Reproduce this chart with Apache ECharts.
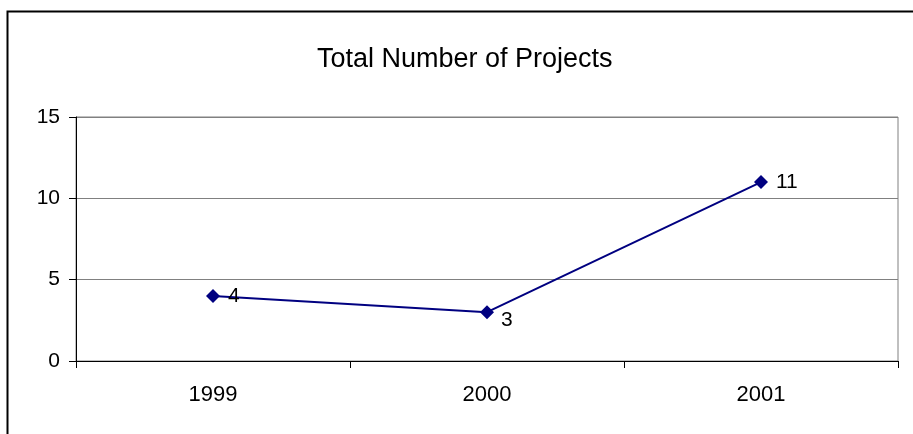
<!DOCTYPE html>
<html>
<head>
<meta charset="utf-8">
<script src="https://cdn.jsdelivr.net/npm/echarts@6/dist/echarts.min.js"></script>
<style>
  html, body { margin: 0; padding: 0; background: #ffffff; }
  #chart { width: 913px; height: 434px; }
</style>
</head>
<body>
<div id="chart"></div>
<script>
// Yearly totals
const years = ['1999', '2000', '2001'];
const projectCounts = [4, 3, 11];
const yTicks = [0, 5, 10, 15];

const chart = echarts.init(document.getElementById('chart'), null, { renderer: 'canvas' });
const font = 'Arial, "Liberation Sans", sans-serif';

// The 2000 value label sits a little below its marker, clear of the rising line
const seriesData = projectCounts.map((v, i) => (
  i === 1 ? { value: v, label: { offset: [-1, 8] } } : v
));

chart.setOption({
  animation: false,
  backgroundColor: '#ffffff',
  title: {
    text: 'Total Number of Projects',
    left: 312,
    top: 41,
    textStyle: { fontFamily: font, fontSize: 27, fontWeight: 'normal', color: '#000000' }
  },
  graphic: [{
    type: 'rect',
    shape: { x: 7.5, y: 11.5, width: 1000, height: 1000 },
    style: { fill: 'none', stroke: '#000000', lineWidth: 2 },
    silent: true
  }],
  grid: {
    left: 76, right: 15, top: 117, bottom: 73,
    show: true, borderColor: '#808080', borderWidth: 1, backgroundColor: '#ffffff'
  },
  xAxis: {
    type: 'category',
    data: years,
    boundaryGap: true,
    axisLine: { lineStyle: { color: '#000000', width: 1 } },
    axisTick: { show: true, length: 7, inside: false, lineStyle: { color: '#000000' } },
    axisLabel: { margin: 23, fontFamily: font, fontSize: 22, color: '#000000' },
    splitLine: { show: false }
  },
  yAxis: {
    type: 'value',
    min: yTicks[0],
    max: yTicks[yTicks.length - 1],
    interval: 5,
    axisLine: { show: true, lineStyle: { color: '#000000', width: 1 } },
    axisTick: { show: true, length: 7, lineStyle: { color: '#000000' } },
    axisLabel: { margin: 16, fontFamily: font, fontSize: 21, color: '#000000' },
    splitLine: { show: true, lineStyle: { color: '#808080', width: 1 } }
  },
  series: [{
    type: 'line',
    data: seriesData,
    symbol: 'diamond',
    symbolSize: 14,
    lineStyle: { color: '#000080', width: 2 },
    itemStyle: { color: '#000080' },
    label: {
      show: true,
      position: 'right',
      distance: 8,
      fontFamily: font,
      fontSize: 21,
      color: '#000000'
    }
  }]
});
</script>
</body>
</html>
